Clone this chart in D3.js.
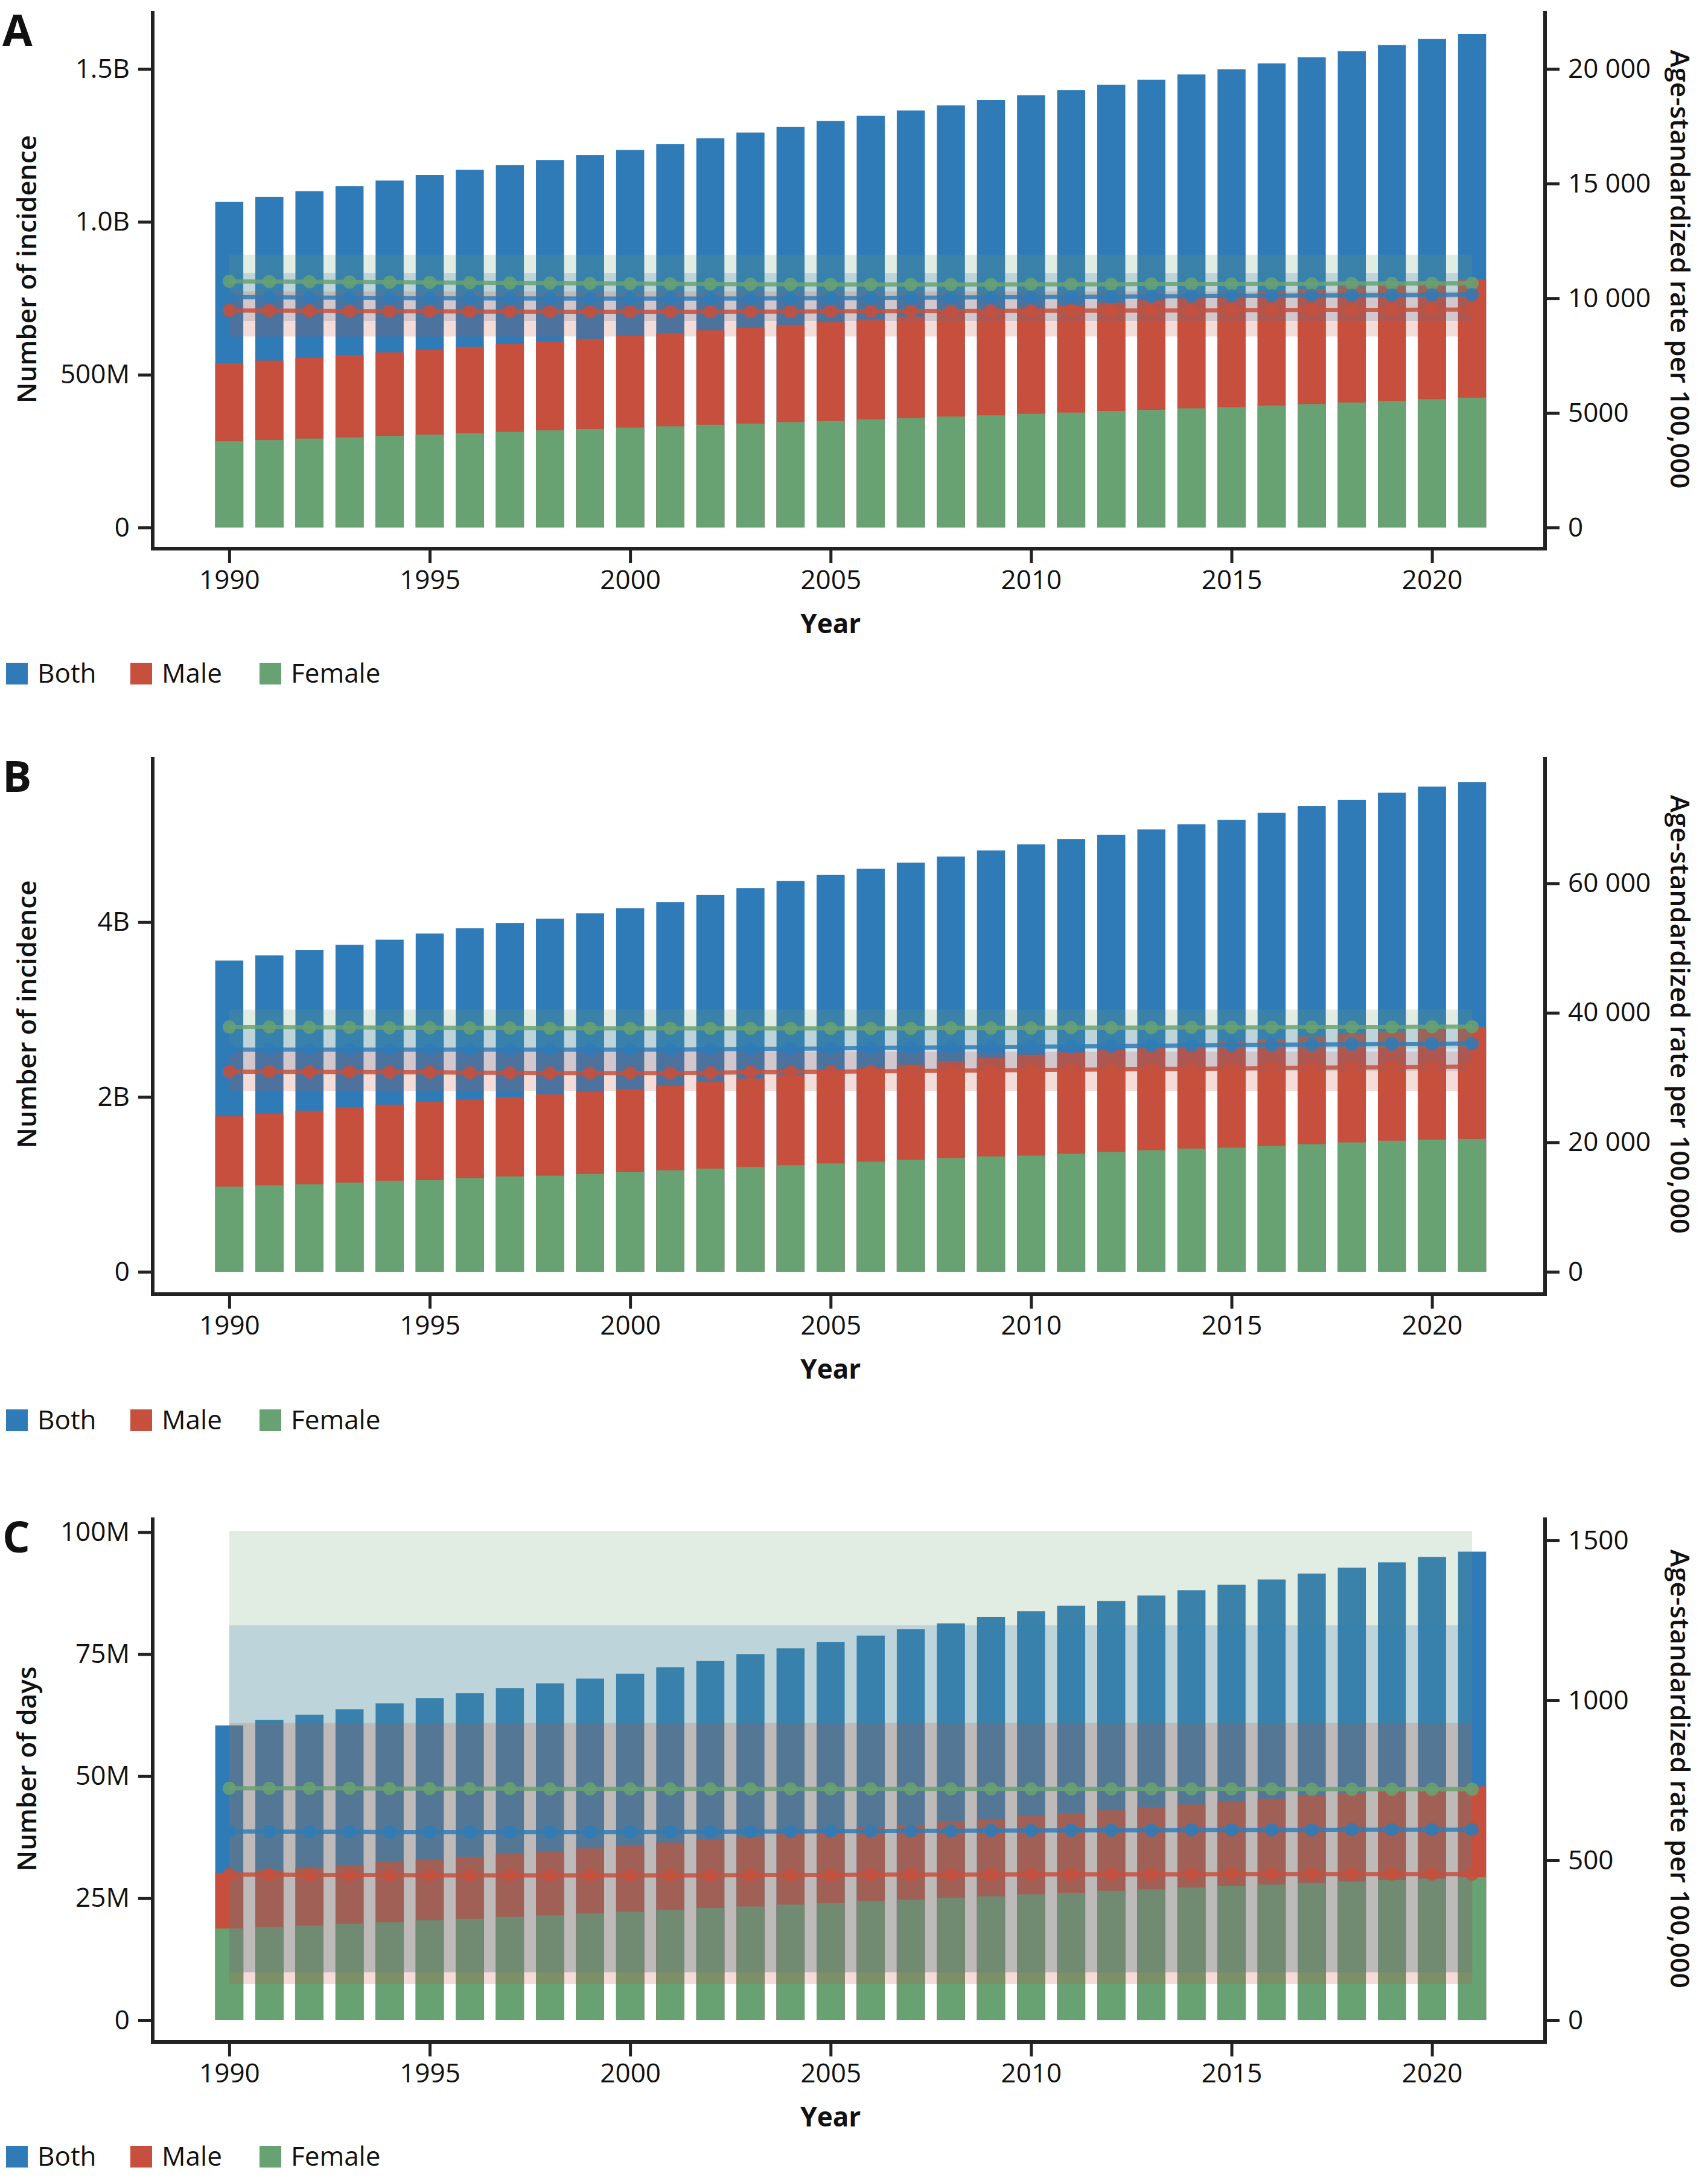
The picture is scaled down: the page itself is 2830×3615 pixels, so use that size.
<!DOCTYPE html>
<html>
<head>
<meta charset="UTF-8" />
<title>Incidence</title>
<script src="https://d3js.org/d3.v7.min.js"></script>
<style>
  body { margin: 0; background: #fff; }
  text { font-family: "Open Sans", sans-serif; fill: #111; }
</style>
</head>
<body>
<script type="text/javascript">

var years = d3.range(1990, 2022)
var seriesNames = ["Both", "Male", "Female"]
var colors = { Both: "#2f7bb7", Male: "#c6503d", Female: "#68a172" }

// panel A - number of incidence (billions) and rates
var aBoth = [1.065,1.082,1.100,1.117,1.135,1.153,1.170,1.186,1.202,1.218,1.235,1.254,1.273,1.292,1.311,1.330,1.347,1.364,1.381,1.398,1.414,1.431,1.448,1.465,1.482,1.499,1.518,1.538,1.558,1.578,1.598,1.615]
var aMale = [0.537,0.546,0.555,0.564,0.573,0.582,0.591,0.600,0.609,0.618,0.627,0.636,0.645,0.654,0.663,0.672,0.681,0.690,0.699,0.708,0.717,0.726,0.735,0.744,0.753,0.762,0.771,0.780,0.789,0.798,0.807,0.812]
var aFemale = [0.282,0.286,0.291,0.295,0.300,0.304,0.309,0.313,0.318,0.322,0.327,0.331,0.336,0.340,0.345,0.349,0.354,0.358,0.363,0.367,0.372,0.376,0.381,0.385,0.390,0.394,0.399,0.404,0.409,0.414,0.420,0.425]
var aRateBoth = [10050,10040,10030,10020,10010,10000,10000,9990,9990,9980,9980,9980,9980,9990,10000,10000,10010,10020,10030,10040,10050,10060,10070,10080,10090,10100,10110,10120,10130,10140,10150,10160]
var aRateMale = [9470,9460,9450,9440,9430,9430,9420,9420,9410,9410,9410,9410,9410,9420,9420,9430,9430,9440,9440,9450,9450,9460,9460,9470,9470,9480,9480,9490,9490,9490,9500,9500]
var aRateFemale = [10740,10730,10720,10710,10700,10690,10680,10670,10660,10650,10640,10630,10620,10610,10610,10600,10600,10600,10600,10600,10610,10610,10610,10620,10620,10620,10630,10630,10640,10640,10650,10650]
var aBand = { Female: [10000, 11900], Both: [9000, 11100], Male: [8330, 10300] }

// panel B
var bBoth = [3.56,3.62,3.68,3.74,3.80,3.87,3.93,3.99,4.04,4.10,4.16,4.23,4.31,4.39,4.47,4.54,4.61,4.68,4.75,4.82,4.89,4.95,5.00,5.06,5.12,5.17,5.25,5.33,5.40,5.48,5.55,5.60]
var bMale = [1.78,1.81,1.84,1.88,1.91,1.94,1.97,2.00,2.03,2.06,2.09,2.13,2.17,2.21,2.25,2.29,2.33,2.37,2.41,2.45,2.48,2.51,2.54,2.57,2.60,2.63,2.66,2.69,2.72,2.75,2.78,2.80]
var bFemale = [0.975,0.99,1.00,1.02,1.04,1.05,1.07,1.09,1.10,1.12,1.14,1.16,1.18,1.20,1.22,1.24,1.26,1.28,1.30,1.32,1.33,1.35,1.37,1.39,1.41,1.42,1.44,1.46,1.48,1.50,1.51,1.52]
var bRateBoth = [34300,34300,34300,34300,34300,34300,34300,34300,34300,34300,34300,34300,34350,34400,34450,34500,34550,34600,34650,34700,34750,34800,34850,34900,34950,35000,35050,35100,35150,35200,35200,35250]
var bRateMale = [30900,30900,30850,30850,30800,30800,30750,30750,30700,30700,30700,30700,30750,30800,30850,30900,30950,31000,31050,31100,31150,31200,31250,31300,31350,31400,31450,31500,31550,31600,31650,31700]
var bRateFemale = [37800,37800,37750,37750,37700,37700,37650,37650,37600,37600,37600,37600,37600,37600,37600,37600,37600,37600,37650,37650,37650,37700,37700,37700,37750,37750,37750,37800,37800,37800,37850,37850]
var bBand = { Female: [34500, 40500], Both: [31000, 37500], Male: [27900, 34000] }

// panel C - number of days (millions)
var cBoth = [60.4,61.5,62.6,63.7,64.9,66.0,67.0,68.0,69.0,70.0,71.0,72.3,73.6,75.0,76.2,77.5,78.8,80.1,81.3,82.6,83.8,84.9,85.9,87.0,88.1,89.2,90.3,91.5,92.7,93.8,94.9,96.0]
var cMale = [30.2,30.7,31.2,31.8,32.4,32.9,33.5,34.1,34.6,35.2,35.8,36.4,37.0,37.6,38.2,38.8,39.4,40.0,40.6,41.2,41.8,42.4,43.0,43.6,44.2,44.8,45.4,46.0,46.6,47.1,47.6,47.9]
var cFemale = [18.8,19.1,19.4,19.8,20.1,20.5,20.8,21.2,21.5,21.9,22.2,22.6,23.0,23.3,23.7,24.0,24.4,24.7,25.1,25.4,25.8,26.1,26.5,26.8,27.2,27.5,27.8,28.1,28.4,28.7,29.0,29.3]
var cRateBoth = [590,590,589,589,588,588,588,588,588,588,588,589,589,590,590,591,591,592,592,593,593,594,594,594,595,595,595,595,596,596,596,596]
var cRateMale = [455,455,454,454,454,453,453,453,453,453,453,453,453,454,454,454,455,455,455,455,456,456,456,456,456,457,457,457,457,457,457,457]
var cRateFemale = [725,725,725,725,724,724,724,724,723,723,723,723,723,723,723,723,723,723,723,723,723,723,723,723,723,723,723,722,722,722,722,722]
var cBandUpper = { Female: 1530, Both: 1235, Male: 930 }
var cBandLower = { Female: 150, Both: 150, Male: 113 }

var W = 2830, H = 3615
var svg = d3.select("body").append("svg").attr("width", W).attr("height", H)

function fmtRight(v) {
    if (v >= 10000) return d3.format(",")(v).replace(/,/g, " ")
    return String(v)
}

function drawPanel(p) {
    var g = svg.append("g")
    var x = d3.scaleLinear().domain([1988.09, 2022.82]).range([253, 2560])
    var yL = d3.scaleLinear().domain([0, p.lMax]).range([p.zero, p.top])
    var yR = d3.scaleLinear().domain([0, p.rMax]).range([p.zero, p.top])
    var bw = 0.7 * (x(1991) - x(1990))

    var bars = { Both: p.both, Male: p.male, Female: p.female }
    seriesNames.forEach(function(s) {
        g.append("g").selectAll("rect").data(bars[s]).enter().append("rect")
            .attr("x", function(d, i) { return x(years[i]) - bw / 2 })
            .attr("width", bw)
            .attr("y", function(d) { return yL(d) })
            .attr("height", function(d) { return yL(0) - yL(d) })
            .attr("fill", colors[s])
    })

    var rates = { Both: p.rBoth, Male: p.rMale, Female: p.rFemale }
    ;["Female", "Both", "Male"].forEach(function(s) {
        var area = d3.area()
            .x(function(d, i) { return x(years[i]) })
            .y0(function(d, i) { return yR(p.band(s, i)[0]) })
            .y1(function(d, i) { return yR(p.band(s, i)[1]) })
        g.append("path").datum(years).attr("d", area)
            .attr("fill", colors[s]).attr("opacity", 0.2)
    })
    ;["Female", "Both", "Male"].forEach(function(s) {
        var line = d3.line().x(function(d, i) { return x(years[i]) }).y(function(d) { return yR(d) })
        g.append("path").datum(rates[s]).attr("d", line)
            .attr("fill", "none").attr("stroke", colors[s]).attr("stroke-width", 7).attr("opacity", 0.85)
        g.append("g").selectAll("circle").data(rates[s]).enter().append("circle")
            .attr("cx", function(d, i) { return x(years[i]) })
            .attr("cy", function(d) { return yR(d) })
            .attr("r", 11).attr("fill", colors[s]).attr("opacity", 0.85)
    })

    // axes
    var axL = d3.axisLeft(yL).tickValues(p.lTicks).tickFormat(p.lFmt).tickSize(24).tickPadding(14)
    var gl = g.append("g").attr("transform", "translate(253,0)").call(axL)
    var axR = d3.axisRight(yR).tickValues(p.rTicks).tickFormat(fmtRight).tickSize(24).tickPadding(14)
    var gr = g.append("g").attr("transform", "translate(2560,0)").call(axR)
    var axX = d3.axisBottom(x).tickValues([1990, 1995, 2000, 2005, 2010, 2015, 2020]).tickFormat(d3.format("d")).tickSize(24).tickPadding(12)
    var gx = g.append("g").attr("transform", "translate(0," + p.xLine + ")").call(axX)
    ;[gl, gr, gx].forEach(function(a) {
        a.select(".domain").remove()
        a.selectAll(".tick line").attr("stroke", "#222").attr("stroke-width", 5)
        a.selectAll("text").attr("font-size", 44).attr("fill", "#111").style("font-family", "Open Sans")
    })
    g.append("line").attr("x1", 253).attr("x2", 253).attr("y1", p.top).attr("y2", p.xLine).attr("stroke", "#222").attr("stroke-width", 6)
    g.append("line").attr("x1", 2560).attr("x2", 2560).attr("y1", p.top).attr("y2", p.xLine).attr("stroke", "#222").attr("stroke-width", 6)
    g.append("line").attr("x1", 250).attr("x2", 2563).attr("y1", p.xLine).attr("y2", p.xLine).attr("stroke", "#222").attr("stroke-width", 6)

    g.append("text").attr("x", 4).attr("y", p.top + 58).attr("font-size", 72).attr("font-weight", "bold").text(p.letter)
    g.append("text").attr("transform", "translate(60," + (p.zero + p.top) / 2 + ") rotate(-90)")
        .attr("text-anchor", "middle").attr("font-size", 44).attr("font-weight", 600).text(p.lTitle)
    g.append("text").attr("transform", "translate(2768," + (p.zero + p.top) / 2 + ") rotate(90)")
        .attr("text-anchor", "middle").attr("font-size", 44).attr("font-weight", 600).text("Age-standardized rate per 100,000")
    g.append("text").attr("x", x(2005)).attr("y", p.xLine + 140).attr("text-anchor", "middle")
        .attr("font-size", 44).attr("font-weight", "bold").text("Year")

    var lx = [10, 216, 430]
    seriesNames.forEach(function(s, i) {
        g.append("rect").attr("x", lx[i]).attr("y", p.legendY - 17).attr("width", 36).attr("height", 36).attr("fill", colors[s])
        g.append("text").attr("x", lx[i] + 52).attr("y", p.legendY + 16).attr("font-size", 44).text(s)
    })
}

drawPanel({
    letter: "A", top: 18, zero: 874, xLine: 909, legendY: 1115,
    lMax: 1.69, rMax: 1.69 * 13333,
    both: aBoth, male: aMale, female: aFemale,
    rBoth: aRateBoth, rMale: aRateMale, rFemale: aRateFemale,
    band: function(s, i) { return aBand[s] },
    lTicks: [0, 0.5, 1.0, 1.5], lFmt: function(d) { return d === 0 ? "0" : d < 1 ? "500M" : d.toFixed(1) + "B" },
    rTicks: [0, 5000, 10000, 15000, 20000], lTitle: "Number of incidence"
})

drawPanel({
    letter: "B", top: 1254, zero: 2107, xLine: 2144, legendY: 2352,
    lMax: 5.89, rMax: 5.89 * 13500,
    both: bBoth, male: bMale, female: bFemale,
    rBoth: bRateBoth, rMale: bRateMale, rFemale: bRateFemale,
    band: function(s, i) { return bBand[s] },
    lTicks: [0, 2, 4], lFmt: function(d) { return d === 0 ? "0" : d + "B" },
    rTicks: [0, 20000, 40000, 60000], lTitle: "Number of incidence"
})

drawPanel({
    letter: "C", top: 2514, zero: 3347, xLine: 3383, legendY: 3572,
    lMax: 103, rMax: 103 * 15.26,
    both: cBoth, male: cMale, female: cFemale,
    rBoth: cRateBoth, rMale: cRateMale, rFemale: cRateFemale,
    band: function(s, i) { return [cBandLower[s], cBandUpper[s]] },
    lTicks: [0, 25, 50, 75, 100], lFmt: function(d) { return d === 0 ? "0" : d + "M" },
    rTicks: [0, 500, 1000, 1500], lTitle: "Number of days"
})

</script>
</body>
</html>
